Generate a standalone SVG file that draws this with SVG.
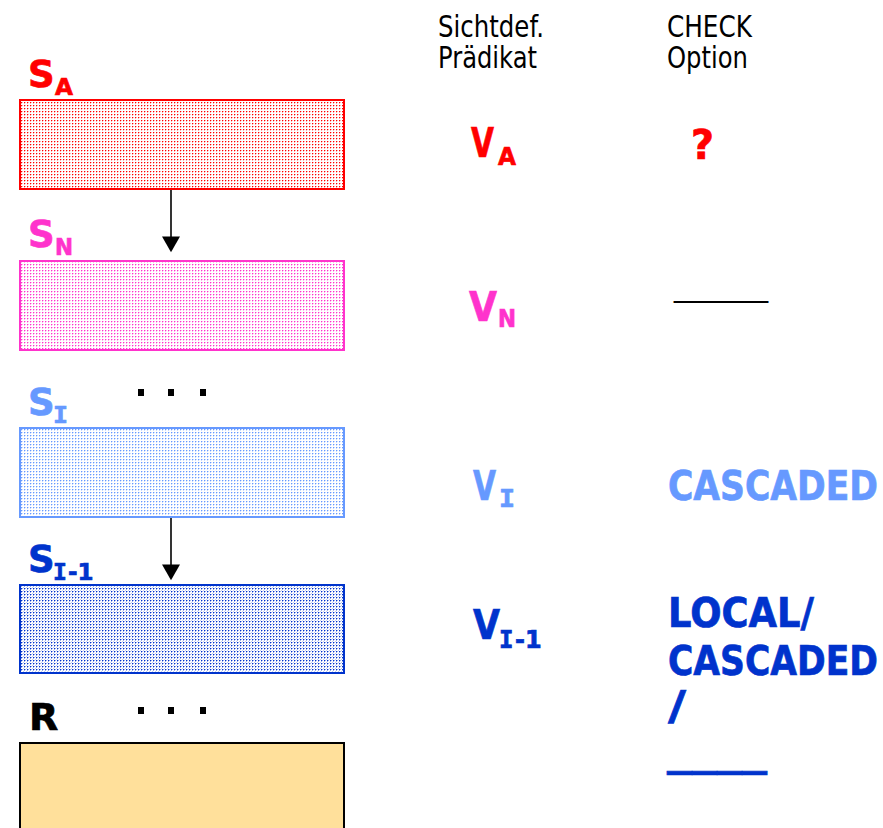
<svg xmlns="http://www.w3.org/2000/svg" width="883" height="828" viewBox="0 0 883 828">
  <style>
    .lbl { font-family: "DejaVu Sans", Verdana, sans-serif; font-weight: bold; stroke-width: 0.7; }
    .serifI { font-family: "DejaVu Sans Mono", monospace; }
    .hdr { font-family: "DejaVu Sans", Verdana, sans-serif; font-size: 30px; fill: #000; }
    .red { fill: #FF0000; stroke: #FF0000; }
    .mag { fill: #FF33CC; stroke: #FF33CC; }
    .lblue { fill: #6699FF; stroke: #6699FF; }
    .dblue { fill: #0033CC; stroke: #0033CC; }
    .blk { fill: #000; }
    .box { stroke-width: 2; }
    .conn { stroke: #000; stroke-width: 1.6; fill: none; marker-end: url(#arrow); }
  </style>
  <defs>
    <!-- fine dotted screens for the relation boxes -->
    <pattern id="dotRed" width="3" height="3" patternUnits="userSpaceOnUse">
      <rect width="3" height="3" fill="#fff"/>
      <rect x="0" y="0" width="1" height="1" fill="#FF0000"/>
      <rect x="1" y="0" width="1" height="1" fill="#FF0000" opacity="0.3"/>
      <rect x="0" y="1" width="1" height="1" fill="#FF0000" opacity="0.3"/>
    </pattern>
    <pattern id="dotMag" width="3" height="3" patternUnits="userSpaceOnUse">
      <rect width="3" height="3" fill="#fff"/>
      <rect x="0" y="0" width="1" height="1" fill="#FF33CC"/>
      <rect x="1" y="0" width="1" height="1" fill="#FF33CC" opacity="0.35"/>
      <rect x="0" y="1" width="1" height="1" fill="#FF33CC" opacity="0.35"/>
    </pattern>
    <pattern id="dotLBlue" width="3" height="3" patternUnits="userSpaceOnUse">
      <rect width="3" height="3" fill="#fff"/>
      <rect x="0" y="0" width="1" height="1" fill="#6699FF"/>
      <rect x="1" y="0" width="1" height="1" fill="#6699FF" opacity="0.35"/>
      <rect x="0" y="1" width="1" height="1" fill="#6699FF" opacity="0.35"/>
    </pattern>
    <pattern id="dotDBlue" width="3" height="3" patternUnits="userSpaceOnUse">
      <rect width="3" height="3" fill="#fff"/>
      <rect x="0" y="0" width="1" height="1" fill="#0033CC"/>
      <rect x="1" y="0" width="1" height="1" fill="#0033CC" opacity="0.4"/>
      <rect x="0" y="1" width="1" height="1" fill="#0033CC" opacity="0.4"/>
      <rect x="2" y="2" width="1" height="1" fill="#0033CC" opacity="0.25"/>
    </pattern>
    <marker id="arrow" markerUnits="userSpaceOnUse" markerWidth="18" markerHeight="18"
            refX="9" refY="8.5" orient="auto" viewBox="0 0 16 17">
      <path d="M0,0 L15,8.5 L0,17 z" fill="#000"/>
    </marker>
  </defs>

  <!-- column headers -->
  <g id="header-predicate">
    <text class="hdr" x="438" y="37" textLength="106" lengthAdjust="spacingAndGlyphs">Sichtdef.</text>
    <text class="hdr" x="438" y="68" textLength="99" lengthAdjust="spacingAndGlyphs">Prädikat</text>
  </g>
  <g id="header-check">
    <text class="hdr" x="667" y="37" textLength="85" lengthAdjust="spacingAndGlyphs">CHECK</text>
    <text class="hdr" x="667" y="68" textLength="81" lengthAdjust="spacingAndGlyphs">Option</text>
  </g>

  <!-- view S_A -->
  <g id="node-SA">
    <text class="lbl red" x="28" y="87" font-size="37">S</text>
    <text class="lbl red" x="55" y="95" font-size="23" textLength="18" lengthAdjust="spacingAndGlyphs">A</text>
    <rect class="box" x="20" y="100" width="324" height="89" fill="url(#dotRed)" stroke="#FF0000"/>
    <text class="lbl red" x="471" y="157" font-size="40" textLength="23" lengthAdjust="spacingAndGlyphs">V</text>
    <text class="lbl red" x="498" y="165" font-size="24" textLength="18" lengthAdjust="spacingAndGlyphs">A</text>
    <text class="lbl red" x="691" y="159" font-size="40" textLength="23" lengthAdjust="spacingAndGlyphs">?</text>
  </g>

  <!-- view S_N -->
  <g id="node-SN">
    <text class="lbl mag" x="28" y="247" font-size="37">S</text>
    <text class="lbl mag" x="55" y="255" font-size="23" textLength="18" lengthAdjust="spacingAndGlyphs">N</text>
    <rect class="box" x="20" y="261" width="324" height="89" fill="url(#dotMag)" stroke="#FF33CC"/>
    <text class="lbl mag" x="469" y="321" font-size="40" textLength="28" lengthAdjust="spacingAndGlyphs">V</text>
    <text class="lbl mag" x="498" y="327" font-size="24" textLength="18" lengthAdjust="spacingAndGlyphs">N</text>
    <text class="hdr" x="674" y="296" textLength="94" lengthAdjust="spacingAndGlyphs">____</text>
  </g>

  <!-- ellipsis between S_N and S_I -->
  <g id="dots-1" class="blk">
    <rect x="138" y="389" width="6" height="7"/>
    <rect x="168" y="389" width="6" height="7"/>
    <rect x="200" y="389" width="6" height="7"/>
  </g>

  <!-- view S_I -->
  <g id="node-SI">
    <text class="lbl lblue" x="28" y="415" font-size="37">S</text>
    <text class="lbl lblue serifI" x="53" y="423" font-size="23" textLength="15" lengthAdjust="spacingAndGlyphs">I</text>
    <rect class="box" x="20" y="428" width="324" height="89" fill="url(#dotLBlue)" stroke="#6699FF"/>
    <text class="lbl lblue" x="473" y="500" font-size="40" textLength="23" lengthAdjust="spacingAndGlyphs">V</text>
    <text class="lbl lblue serifI" x="499" y="507" font-size="24" textLength="16" lengthAdjust="spacingAndGlyphs">I</text>
    <text class="lbl lblue" x="668" y="500" font-size="40" textLength="210" lengthAdjust="spacingAndGlyphs">CASCADED</text>
  </g>

  <!-- view S_I-1 -->
  <g id="node-SI-1">
    <text class="lbl dblue" x="28" y="572" font-size="37">S</text>
    <text class="lbl dblue" y="580" font-size="23"><tspan class="serifI" x="53">I</tspan><tspan x="68">-1</tspan></text>
    <rect class="box" x="20" y="585" width="324" height="88" fill="url(#dotDBlue)" stroke="#0033CC"/>
    <text class="lbl dblue" x="473" y="639" font-size="40" textLength="27" lengthAdjust="spacingAndGlyphs">V</text>
    <text class="lbl dblue" y="648" font-size="24"><tspan class="serifI" x="499">I</tspan><tspan x="515">-1</tspan></text>
    <text class="lbl dblue" x="668" y="627" font-size="40" textLength="146" lengthAdjust="spacingAndGlyphs">LOCAL/</text>
    <text class="lbl dblue" x="668" y="675" font-size="40" textLength="210" lengthAdjust="spacingAndGlyphs">CASCADED</text>
    <text class="lbl dblue" x="668" y="720" font-size="40" textLength="18" lengthAdjust="spacingAndGlyphs">/</text>
    <text class="lbl dblue" x="667" y="765" font-size="40" textLength="100" lengthAdjust="spacingAndGlyphs" stroke-width="1.2">____</text>
  </g>

  <!-- ellipsis between S_I-1 and R -->
  <g id="dots-2" class="blk">
    <rect x="138" y="707" width="6" height="7"/>
    <rect x="168" y="707" width="6" height="7"/>
    <rect x="200" y="707" width="6" height="7"/>
  </g>

  <!-- base relation R -->
  <g id="node-R">
    <text class="lbl blk" x="29" y="730" font-size="38" stroke="#000">R</text>
    <rect class="box" x="20" y="743" width="324" height="100" fill="#FFE09B" stroke="#000"/>
  </g>

  <!-- derivation arrows -->
  <g id="connectors">
    <line class="conn" x1="171" y1="190" x2="171" y2="246"/>
    <line class="conn" x1="171" y1="518" x2="171" y2="574"/>
  </g>
</svg>
